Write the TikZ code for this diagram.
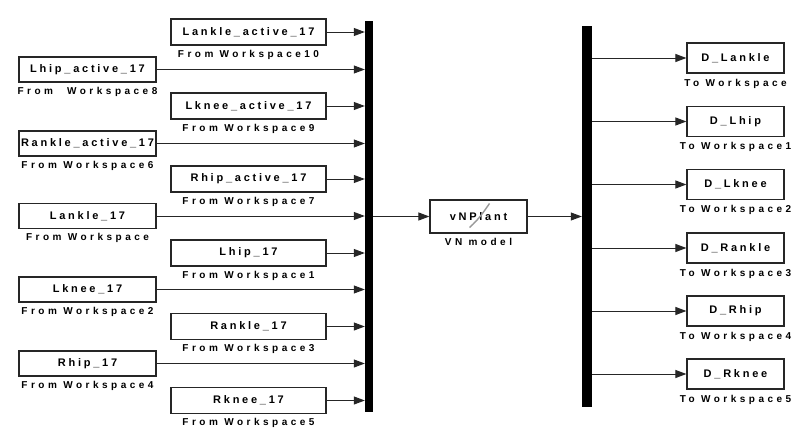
\documentclass[tikz,border=0pt]{standalone}
\usepackage{fontspec}
\setmainfont{Liberation Sans}
\newfontfamily\boxfont[LetterSpace=25]{Liberation Sans}
\newfontfamily\lblfont[LetterSpace=35]{Liberation Sans}
\usetikzlibrary{arrows.meta}
\begin{document}
\begin{tikzpicture}[x=1pt,y=-1pt,
  blk/.style={draw=black!85, line width=1.2pt, fill=white, inner sep=0pt,
    font=\boxfont\fontsize{11}{12}\selectfont\bfseries},
  wideblk/.style={blk, minimum width=137pt, minimum height=25pt},
  midblk/.style={blk, minimum width=155pt, minimum height=26pt},
  outblk/.style={blk, minimum width=97pt, minimum height=30pt},
  lbl/.style={font=\lblfont\fontsize{10}{11}\selectfont\bfseries, inner sep=0pt, anchor=north},
  bar/.style={fill=black, draw=none, inner sep=0pt},
  sig/.style={draw=black!85, line width=1pt, -{Triangle[length=11pt,width=8pt]}}
]
\useasboundingbox (0,0) rectangle (804,431);
\fill[white] (0,0) rectangle (804,431);

% bars
\node[bar, minimum width=8pt, minimum height=391pt] (mux) at (369,216.5) {};
\node[bar, minimum width=10pt, minimum height=381pt] (demux) at (587,216.5) {};

% left column (wide)
\node[wideblk] (lhipa) at (87.5,69.5) {Lhip\_active\_17};
\node[wideblk] (ranka) at (87.5,143.5) {Rankle\_active\_17};
\node[wideblk] (lank) at (87.5,216) {Lankle\_17};
\node[wideblk] (lkne) at (87.5,289.5) {Lknee\_17};
\node[wideblk] (rhip) at (87.5,363.5) {Rhip\_17};

% middle column
\node[midblk] (lanka) at (248.5,32) {Lankle\_active\_17};
\node[midblk] (lknea) at (248.5,106) {Lknee\_active\_17};
\node[midblk] (rhipa) at (248.5,179) {Rhip\_active\_17};
\node[midblk] (lhip) at (248.5,253) {Lhip\_17};
\node[midblk] (rank) at (248.5,326.5) {Rankle\_17};
\node[midblk] (rkne) at (248.5,400.5) {Rknee\_17};

% labels left
\node[lbl] (l1) at ([yshift=-4pt]lhipa.south) {From\hspace{14pt}Workspace8};
\node[lbl] (l2) at ([yshift=-4pt]ranka.south) {From Workspace6};
\node[lbl] (l3) at ([yshift=-4pt]lank.south) {From Workspace};
\node[lbl] (l4) at ([yshift=-4pt]lkne.south) {From Workspace2};
\node[lbl] (l5) at ([yshift=-4pt]rhip.south) {From Workspace4};
% labels middle
\node[lbl] (m1) at ([yshift=-4pt]lanka.south) {From Workspace10};
\node[lbl] (m2) at ([yshift=-4pt]lknea.south) {From Workspace9};
\node[lbl] (m3) at ([yshift=-4pt]rhipa.south) {From Workspace7};
\node[lbl] (m4) at ([yshift=-4pt]lhip.south) {From Workspace1};
\node[lbl] (m5) at ([yshift=-4pt]rank.south) {From Workspace3};
\node[lbl] (m6) at ([yshift=-4pt]rkne.south) {From Workspace5};

% signals into mux
\foreach \b in {lhipa,ranka,lank,lkne,rhip,lanka,lknea,rhipa,lhip,rank,rkne}
  \draw[sig] (\b.east) -- (\b.east -| mux.west);

% VN model
\node[blk, minimum width=97pt, minimum height=33pt] (vn) at (478.5,216.5) {vNPlant};
\draw[black!40, line width=1.4pt] ([xshift=-9pt,yshift=-11pt]vn.center) .. controls ([xshift=0pt,yshift=-3pt]vn.center) and ([xshift=4pt,yshift=3pt]vn.center) .. ([xshift=11pt,yshift=13pt]vn.center);
\node[lbl] (vnl) at ([yshift=-4pt]vn.south) {VN model};
\draw[sig] (mux.east |- vn.west) -- (vn.west);
\draw[sig] (vn.east) -- (vn.east -| demux.west);

% outputs
\node[outblk] (o1) at (735.5,58) {D\_Lankle};
\node[outblk] (o2) at (735.5,121.5) {D\_Lhip};
\node[outblk] (o3) at (735.5,184.5) {D\_Lknee};
\node[outblk] (o4) at (735.5,248) {D\_Rankle};
\node[outblk] (o5) at (735.5,311) {D\_Rhip};
\node[outblk] (o6) at (735.5,374) {D\_Rknee};
\node[lbl] (t1) at ([yshift=-5pt]o1.south) {To Workspace};
\node[lbl] (t2) at ([yshift=-5pt]o2.south) {To Workspace1};
\node[lbl] (t3) at ([yshift=-5pt]o3.south) {To Workspace2};
\node[lbl] (t4) at ([yshift=-5pt]o4.south) {To Workspace3};
\node[lbl] (t5) at ([yshift=-5pt]o5.south) {To Workspace4};
\node[lbl] (t6) at ([yshift=-5pt]o6.south) {To Workspace5};
\foreach \o in {o1,o2,o3,o4,o5,o6}
  \draw[sig] (\o.west -| demux.east) -- (\o.west);
\end{tikzpicture}
\end{document}
